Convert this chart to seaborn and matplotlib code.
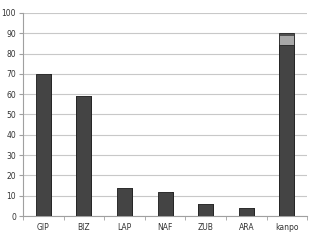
import matplotlib
matplotlib.use("Agg")
import matplotlib.pyplot as plt
import seaborn as sns
import pandas as pd
import numpy as np

categories = ["GIP", "BIZ", "LAP", "NAF", "ZUB", "ARA", "kanpo"]
values = [70, 59, 14, 12, 6, 4, 84]
# extra stacked segments on "kanpo"
kanpo_mid = 4.5
kanpo_top = 1.5

sns.set_style("white")
fig = plt.figure(figsize=(3.2, 2.4), dpi=100)
ax = fig.add_axes([0.072, 0.1, 0.888, 0.846])

df = pd.DataFrame({"cat": categories, "val": values})
tot_top = [v + (kanpo_mid + kanpo_top if c == "kanpo" else 0) for c, v in zip(categories, values)]
tot_mid = [v + (kanpo_mid if c == "kanpo" else 0) for c, v in zip(categories, values)]

w = 0.37
sns.barplot(x=categories, y=tot_top, order=categories, color="#505050", width=w,
            edgecolor="#222222", linewidth=0.6, ax=ax, saturation=1, zorder=3)
sns.barplot(x=categories, y=tot_mid, order=categories, color="#a8a8a8", width=w * 0.94,
            edgecolor="none", linewidth=0, ax=ax, saturation=1, zorder=4)
sns.barplot(data=df, x="cat", y="val", order=categories, color="#444444", width=w,
            edgecolor="#222222", linewidth=0.6, ax=ax, saturation=1, zorder=5)

ax.set_ylim(0, 100)
ax.set_xlim(-0.5, len(categories) - 0.5)
ax.set_yticks(np.arange(0, 101, 10))
ax.set_xlabel("")
ax.set_ylabel("")
ax.yaxis.grid(True, color="#c8c8c8", linewidth=0.8, zorder=0)
ax.set_axisbelow(True)

for s in ["top", "right"]:
    ax.spines[s].set_visible(False)
for s in ["left", "bottom"]:
    ax.spines[s].set_color("#a0a0a0")
    ax.spines[s].set_linewidth(0.8)

ax.tick_params(axis="y", labelsize=5.5, labelcolor="#333333", length=3, color="#a0a0a0",
               left=True, pad=2)
ax.tick_params(axis="x", labelsize=5.5, labelcolor="#333333", length=0, pad=5)
ax.set_xticks(np.arange(-0.5, len(categories), 1.0), minor=True)
ax.tick_params(axis="x", which="minor", length=3, color="#a0a0a0", bottom=True)

fig.savefig("out.png", dpi=100)
